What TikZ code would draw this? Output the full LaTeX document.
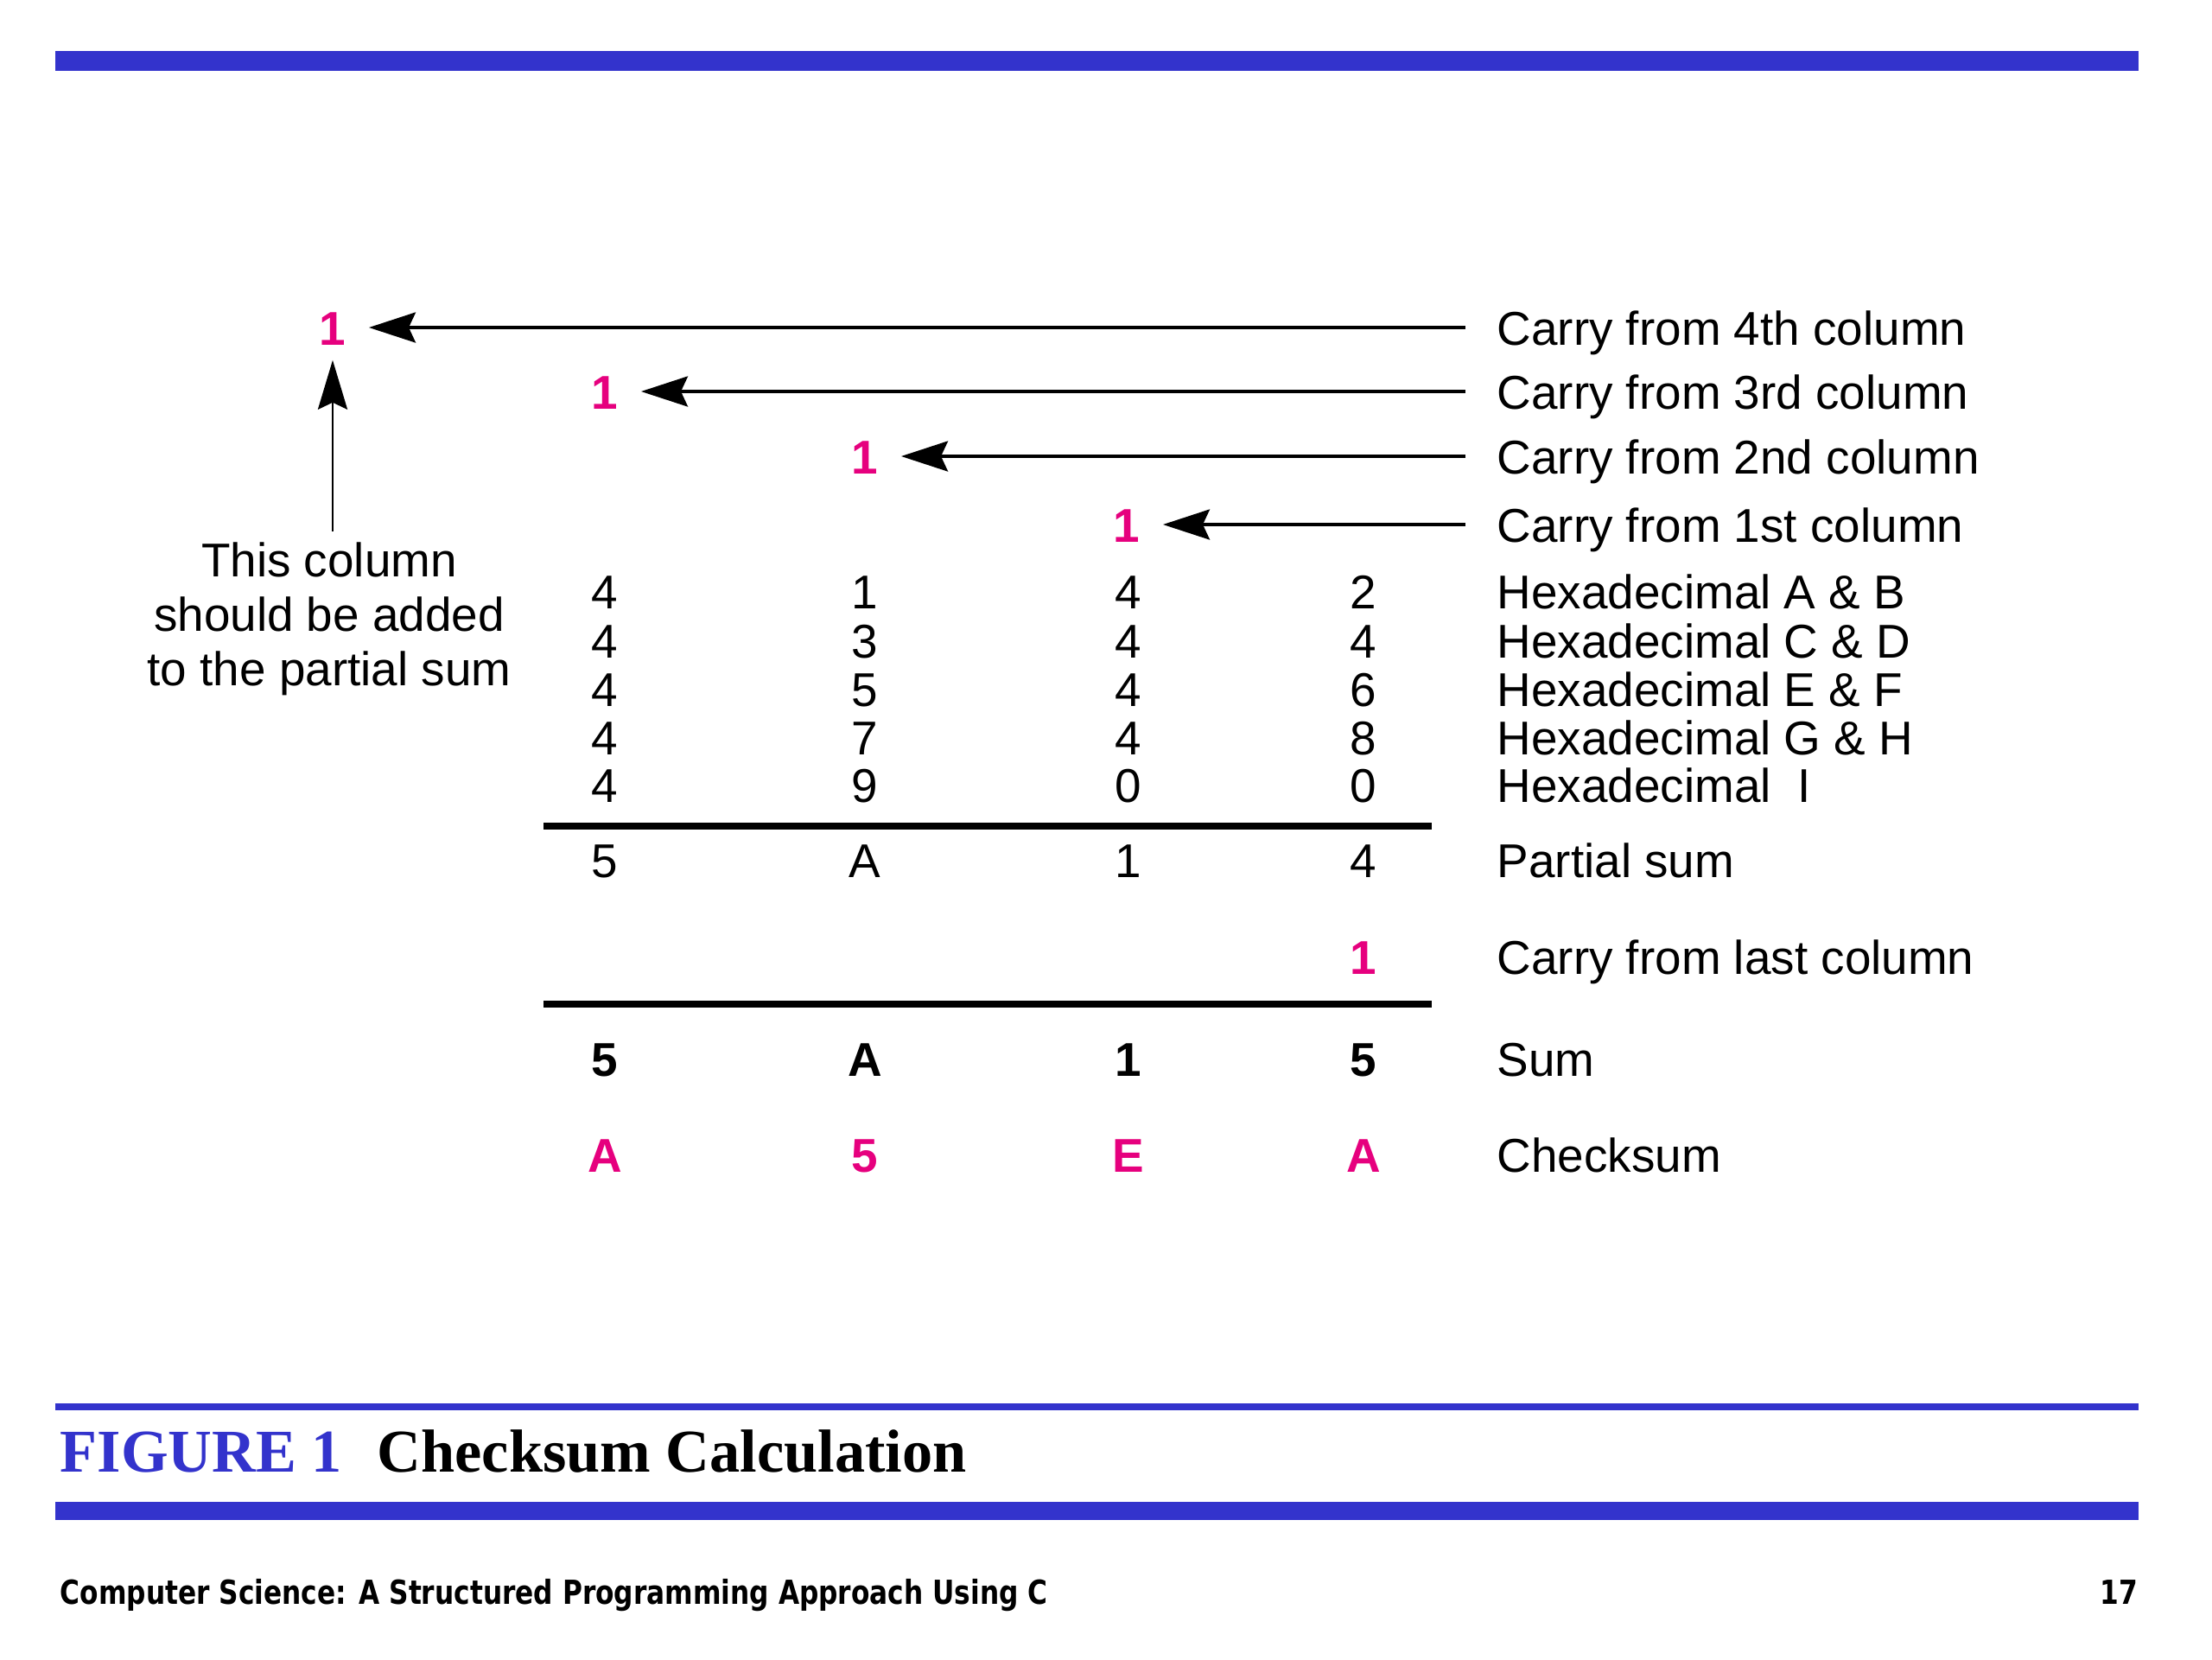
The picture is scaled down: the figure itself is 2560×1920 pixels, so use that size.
\documentclass[tikz,border=0pt]{standalone}
\usepackage{fontspec}
\setmainfont{Liberation Sans}
\newfontfamily\capfont{Liberation Serif}
\newfontfamily\footfont[FakeStretch=0.815]{DejaVu Sans}
\usetikzlibrary{arrows.meta, positioning}

\definecolor{hexpink}{RGB}{230,0,126}
\definecolor{barblue}{RGB}{51,51,204}
\newcommand{\dgtsize}{\fontsize{15.6pt}{17.9pt}\selectfont}

\begin{document}
\begin{tikzpicture}[
		x=0.01cm, y=-0.01cm,
		every node/.style={inner sep=0pt, font=\dgtsize},
		digit/.style={text height=0.4cm, text depth=0pt},
		carry/.style={digit, text=hexpink, font=\dgtsize\bfseries},
		total/.style={digit, font=\dgtsize\bfseries},
		check/.style={carry},
		lbl/.style={digit, anchor=west},
		rule/.style={line width=2.3pt},
		carryarrow/.style={-{Stealth[length=5.4mm,width=3.5mm,inset=0.8mm]}, line width=1pt},
	]
	\useasboundingbox[fill=white] (0,0) rectangle (2560,1920);

	% -- frame bars --
	\fill[barblue] (64,59) rectangle (2475,82);
	\fill[barblue] (64,1624) rectangle (2475,1632);
	\fill[barblue] (64,1738) rectangle (2475,1759);

	% -- carries --
	\node [carry] (c4) at (385,379) {1};
	\node [carry] (c3) at (700,453) {1};
	\node [carry] (c2) at (1001,528) {1};
	\node [carry] (c1) at (1304,607) {1};

	\node [lbl] (l4) at (1732,379) {Carry from 4th column};
	\node [lbl] (l3) at (1732,453) {Carry from 3rd column};
	\node [lbl] (l2) at (1732,528) {Carry from 2nd column};
	\node [lbl] (l1) at (1732,607) {Carry from 1st column};

	\foreach \n in {1,...,4}
		\draw[carryarrow, shorten <=0.36cm, shorten >=0.26cm] (l\n.west) -- (c\n.east);

	% -- note on the left --
	\node [align=center, anchor=north] (note) at (381,627) {
		This column \\ should be added \\ to the partial sum
	};
	\draw[-{Stealth[length=5.7mm,width=3.4mm,inset=0.8mm]}, line width=0.8pt, shorten <=0.12cm, shorten >=0.17cm]
		(note.north -| c4.south) -- (c4.south);

	% -- hexadecimal rows --
	\foreach \r/\y/\a/\b/\c/\d/\t in {
			1/684/4/1/4/2/{Hexadecimal A \& B},
			2/741/4/3/4/4/{Hexadecimal C \& D},
			3/797/4/5/4/6/{Hexadecimal E \& F},
			4/853/4/7/4/8/{Hexadecimal G \& H},
			5/908/4/9/0/0/{Hexadecimal\ \ I}} {
		\node [digit] (h\r a) at (700,\y) {\a};
		\node [digit] (h\r b) at (1001,\y) {\b};
		\node [digit] (h\r c) at (1306,\y) {\c};
		\node [digit] (h\r d) at (1578,\y) {\d};
		\node [lbl] (hl\r) at (1732,\y) {\t};
	}

	% -- partial sum --
	\coordinate (r1a) at (629,956);
	\coordinate (r1b) at (1657,956);
	\draw[rule] (r1a) -- (r1b);

	\node [digit] (pa) at (700,995) {5};
	\node [digit] (pb) at (1001,995) {A};
	\node [digit] (pc) at (1306,995) {1};
	\node [digit] (pd) at (1578,995) {4};
	\node [lbl] (pl) at (1732,995) {Partial sum};

	\node [carry] (cl) at (1578,1107) {1};
	\node [lbl] (cll) at (1732,1107) {Carry from last column};

	% -- sum and checksum --
	\coordinate (r2a) at (629,1162);
	\coordinate (r2b) at (1657,1162);
	\draw[rule] (r2a) -- (r2b);

	\node [total] (sa) at (700,1225) {5};
	\node [total] (sb) at (1001,1225) {A};
	\node [total] (sc) at (1306,1225) {1};
	\node [total] (sd) at (1578,1225) {5};
	\node [lbl] (sl) at (1732,1225) {Sum};

	\node [check] (ka) at (700,1336) {A};
	\node [check] (kb) at (1001,1336) {5};
	\node [check] (kc) at (1306,1336) {E};
	\node [check] (kd) at (1578,1336) {A};
	\node [lbl] (kl) at (1732,1336) {Checksum};

	% -- caption and footer --
	\node [anchor=base west, font=\capfont\bfseries\fontsize{20pt}{24pt}\selectfont, text=barblue]
		(fig) at (69,1703) {FIGURE 1};
	\node [anchor=base west, font=\capfont\bfseries\fontsize{20pt}{24pt}\selectfont]
		(title) at (436,1703) {Checksum Calculation};
	\node [anchor=base west, font=\footfont\bfseries\fontsize{10.9pt}{13pt}\selectfont]
		(book) at (69,1856) {Computer Science: A Structured Programming Approach Using C};
	\node [anchor=base east, font=\footfont\bfseries\fontsize{10.9pt}{13pt}\selectfont]
		(page) at (2475,1856) {17};
\end{tikzpicture}
\end{document}
